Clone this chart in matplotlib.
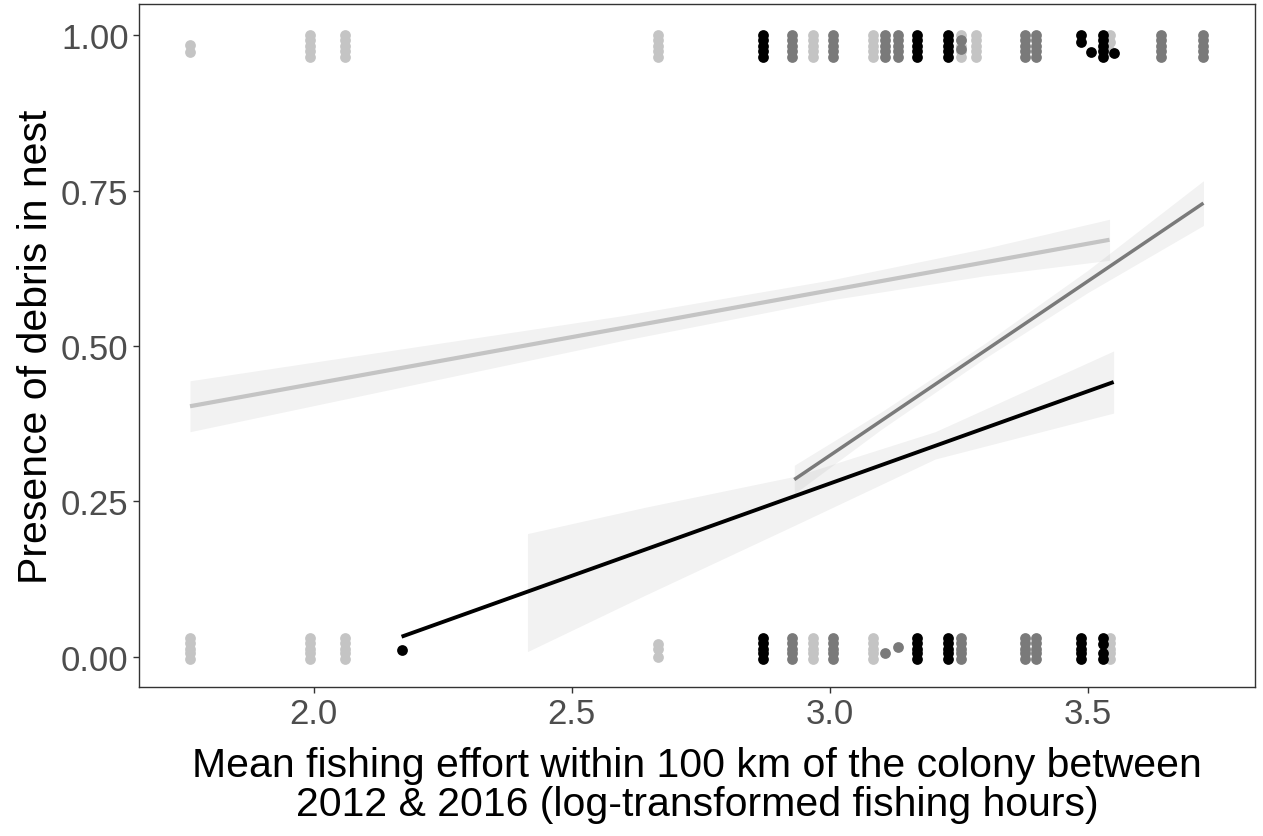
import numpy as np
import matplotlib
matplotlib.use("Agg")
import matplotlib.pyplot as plt

plt.rcParams['font.family'] = ['Liberation Sans', 'DejaVu Sans']

# group colours (light, mid, black)
colors = {"L": "#c4c4c4", "M": "#7a7a7a", "B": "#000000"}

# jittered y values of a full column of points at 1 and at 0
full_top = [0.966, 0.975, 0.983, 0.992, 1.0]
full_bot = [-0.004, 0.005, 0.013, 0.022, 0.03]

# observed points: (group, x, y values)
top_pts = [
    ("L", 1.760, [0.973, 0.984]),
    ("L", 1.992, full_top),
    ("L", 2.060, full_top),
    ("L", 2.666, full_top),
    ("L", 2.968, full_top),
    ("L", 3.084, full_top),
    ("L", 3.254, full_top),
    ("L", 3.283, full_top),
    ("L", 3.542, [0.975, 0.99, 1.0]),
    ("M", 2.927, full_top),
    ("M", 3.006, full_top),
    ("M", 3.107, full_top),
    ("M", 3.132, full_top),
    ("M", 3.254, [0.978, 0.993]),
    ("M", 3.378, full_top),
    ("M", 3.399, full_top),
    ("M", 3.641, full_top),
    ("M", 3.724, full_top),
    ("B", 2.871, full_top),
    ("B", 3.169, full_top),
    ("B", 3.229, full_top),
    ("B", 3.486, [0.99, 1.0]),
    ("B", 3.506, [0.973]),
    ("B", 3.529, full_top),
    ("B", 3.550, [0.972]),
]

bot_pts = [
    ("L", 1.760, full_bot),
    ("L", 1.992, full_bot),
    ("L", 2.060, full_bot),
    ("L", 2.666, [0.0, 0.012, 0.02]),
    ("L", 2.968, full_bot),
    ("L", 3.084, full_bot),
    ("L", 3.542, full_bot),
    ("M", 2.927, full_bot),
    ("M", 3.006, full_bot),
    ("M", 3.107, [0.006]),
    ("M", 3.132, [0.016]),
    ("M", 3.254, full_bot),
    ("M", 3.378, full_bot),
    ("M", 3.399, full_bot),
    ("B", 2.170, [0.011]),
    ("B", 2.871, full_bot),
    ("B", 3.169, full_bot),
    ("B", 3.229, full_bot),
    ("B", 3.486, full_bot),
    ("B", 3.529, [-0.004, 0.005, 0.02, 0.03]),
]

# fitted lines and confidence bands
light_x = [1.76, 2.2, 2.6, 3.0, 3.3, 3.542]
light_fit = [0.403, 0.469, 0.529, 0.590, 0.635, 0.671]
light_lo = [0.362, 0.439, 0.509, 0.574, 0.613, 0.638]
light_hi = [0.444, 0.499, 0.549, 0.606, 0.657, 0.704]

mid_x = [2.931, 3.1, 3.3, 3.5, 3.724]
mid_fit = [0.285, 0.380, 0.492, 0.604, 0.730]
mid_lo = [0.262, 0.366, 0.480, 0.586, 0.694]
mid_hi = [0.308, 0.394, 0.504, 0.622, 0.766]

black_x = [2.17, 3.55]
black_fit = [0.032, 0.442]
black_band_x = [2.414, 2.64, 2.931, 3.204, 3.55]
black_lo = [0.008, 0.098, 0.211, 0.318, 0.392]
black_hi = [0.198, 0.240, 0.290, 0.362, 0.492]

fig = plt.figure(figsize=(12.63, 8.37), dpi=100)
ax = fig.add_axes([0.110, 0.178, 0.8837, 0.816])

# ribbons first
band = dict(color="grey", alpha=0.1, linewidth=0)
ax.fill_between(light_x, light_lo, light_hi, **band)
ax.fill_between(mid_x, mid_lo, mid_hi, **band)
ax.fill_between(black_band_x, black_lo, black_hi, **band)

# points, light then mid then black
for grp in ["L", "M", "B"]:
    for rows in (top_pts, bot_pts):
        for g, x, ys in rows:
            if g != grp:
                continue
            ax.scatter([x] * len(ys), ys, s=60, color=colors[g],
                       linewidths=0, zorder=2)

ax.plot([light_x[0], light_x[-1]], [light_fit[0], light_fit[-1]],
        color=colors["L"], lw=3.0, solid_capstyle="butt", zorder=3)
ax.plot([mid_x[0], mid_x[-1]], [mid_fit[0], mid_fit[-1]],
        color=colors["M"], lw=2.5, solid_capstyle="butt", zorder=3)
ax.plot(black_x, black_fit, color=colors["B"], lw=2.8,
        solid_capstyle="butt", zorder=3)

ax.set_xlim(1.661, 3.824)
ax.set_ylim(-0.049, 1.0505)
ax.set_xticks([2.0, 2.5, 3.0, 3.5])
ax.set_xticklabels(["2.0", "2.5", "3.0", "3.5"])
ax.set_yticks([0, 0.25, 0.5, 0.75, 1.0])
ax.set_yticklabels(["0.00", "0.25", "0.50", "0.75", "1.00"])
ax.tick_params(labelsize=25, labelcolor="#4d4d4d", color="#333333",
               length=4, width=1.0, pad=3.5)
for sp in ax.spines.values():
    sp.set_color("#333333")
    sp.set_linewidth(1.0)

ax.set_xlabel("Mean fishing effort within 100 km of the colony between\n"
              "2012 & 2016 (log-transformed fishing hours)",
              fontsize=29.5, labelpad=11, linespacing=1.03)
ax.set_ylabel("Presence of debris in nest", fontsize=29.5, labelpad=4)

fig.savefig("out.png", dpi=100)
